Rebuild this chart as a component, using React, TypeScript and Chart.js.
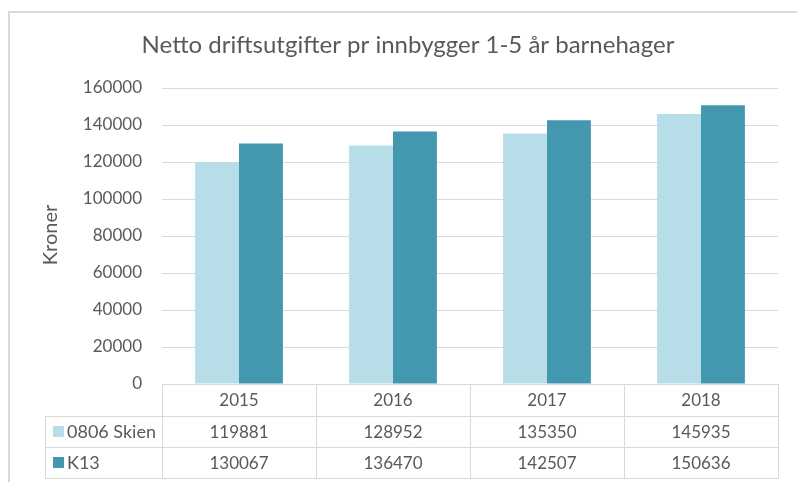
import { useEffect, useRef } from 'react';
import { Chart, registerables } from 'chart.js';

Chart.register(...registerables);

const categories = ['2015', '2016', '2017', '2018'];
const skienValues = [119881, 128952, 135350, 145935];
const k13Values = [130067, 136470, 142507, 150636];
const seriesNames = ['0806 Skien', 'K13'];
const seriesColors = ['#B7DDE8', '#4397AF'];
const titleText = 'Netto driftsutgifter pr innbygger 1-5 år barnehager';
const yAxisTitle = 'Kroner';
const yMin = 0;
const yMax = 160000;
const yStep = 20000;

const FONT = 'Lato, "Open Sans", sans-serif';
const TEXT = '#595959';
const LINE = '#D9D9D9';

const tablePlugin = {
  id: 'excelTable',
  afterDraw(chart: any) {
    const ctx = chart.ctx as CanvasRenderingContext2D;
    const area = chart.chartArea;
    const n = categories.length;
    const colW = (area.right - area.left) / n;
    const headerTop = area.bottom;
    const headerH = 32;
    const rowH = 31;
    const legendLeft = 45;
    const row1Top = headerTop + headerH;
    const row2Top = row1Top + rowH;
    const tableBottom = row2Top + rowH;

    ctx.save();
    // outer chart border
    ctx.strokeStyle = LINE;
    ctx.lineWidth = 2;
    ctx.beginPath();
    ctx.moveTo(9, 490);
    ctx.lineTo(9, 12);
    ctx.lineTo(800, 12);
    ctx.stroke();

    // table grid
    ctx.lineWidth = 1;
    ctx.strokeStyle = LINE;
    ctx.beginPath();
    const hl = (x1: number, x2: number, y: number) => {
      ctx.moveTo(x1, Math.round(y) + 0.5);
      ctx.lineTo(x2, Math.round(y) + 0.5);
    };
    const vl = (x: number, y1: number, y2: number) => {
      ctx.moveTo(Math.round(x) + 0.5, y1);
      ctx.lineTo(Math.round(x) + 0.5, y2);
    };
    hl(area.left, area.right, headerTop);
    hl(legendLeft, area.right, row1Top);
    hl(legendLeft, area.right, row2Top);
    hl(legendLeft, area.right, tableBottom);
    vl(legendLeft, row1Top, tableBottom + 0.5);
    for (let i = 0; i <= n; i++) {
      vl(area.left + i * colW, headerTop, tableBottom + 0.5);
    }
    ctx.stroke();

    // table text
    ctx.fillStyle = TEXT;
    ctx.font = `17px ${FONT}`;
    ctx.textAlign = 'center';
    ctx.textBaseline = 'middle';
    const rows = [skienValues, k13Values];
    for (let i = 0; i < n; i++) {
      const cx = area.left + (i + 0.5) * colW;
      ctx.fillText(categories[i], cx, headerTop + headerH / 2 + 1);
      rows.forEach((vals, r) => {
        const top = row1Top + r * rowH;
        ctx.fillText(String(vals[i]), cx, top + rowH / 2 + 1);
      });
    }
    // legend keys
    ctx.textAlign = 'left';
    ctx.font = `18px ${FONT}`;
    seriesNames.forEach((name, r) => {
      const top = row1Top + r * rowH;
      const mid = top + rowH / 2;
      ctx.fillStyle = seriesColors[r];
      ctx.fillRect(53, Math.round(mid - 5.5), 11, 11);
      ctx.fillStyle = TEXT;
      ctx.fillText(name, 67, mid + 1);
    });

    // title
    ctx.textAlign = 'center';
    ctx.font = `24px ${FONT}`;
    ctx.fillText(titleText, 408, 45);

    // y-axis title
    ctx.translate(51, 235);
    ctx.rotate(-Math.PI / 2);
    ctx.font = `20px ${FONT}`;
    ctx.fillText(yAxisTitle, 0, 0);
    ctx.restore();
  },
};

export default function App() {
  const ref = useRef<HTMLCanvasElement>(null);
  useEffect(() => {
    document.body.style.margin = '0';
    const chart = new Chart(ref.current!, {
      type: 'bar',
      data: {
        labels: categories,
        datasets: [
          {
            label: seriesNames[0],
            data: skienValues,
            backgroundColor: seriesColors[0],
            borderWidth: 0,
            barPercentage: 1,
            categoryPercentage: 0.57,
          },
          {
            label: seriesNames[1],
            data: k13Values,
            backgroundColor: seriesColors[1],
            borderWidth: 0,
            barPercentage: 1,
            categoryPercentage: 0.57,
          },
        ],
      },
      options: {
        responsive: false,
        animation: false,
        devicePixelRatio: 1,
        layout: { padding: { left: 0, right: 19, top: 88, bottom: 98 } },
        plugins: {
          legend: { display: false },
          title: { display: false },
          tooltip: { enabled: false },
        },
        scales: {
          x: { display: false },
          y: {
            min: yMin,
            max: yMax,
            ticks: {
              stepSize: yStep,
              padding: 20,
              color: TEXT,
              font: { family: FONT, size: 17 },
              callback: (v: any) => String(v),
            },
            grid: { color: LINE, drawTicks: false, lineWidth: 1 },
            border: { display: false },
            afterFit: (s: any) => {
              s.width = 162;
            },
          },
        },
      },
      plugins: [tablePlugin],
    });
    return () => chart.destroy();
  }, []);
  return (
    <div style={{ position: 'absolute', left: 0, top: 0, width: 797, height: 482, background: '#fff' }}>
      <canvas ref={ref} width={797} height={482} style={{ display: 'block' }} />
    </div>
  );
}
